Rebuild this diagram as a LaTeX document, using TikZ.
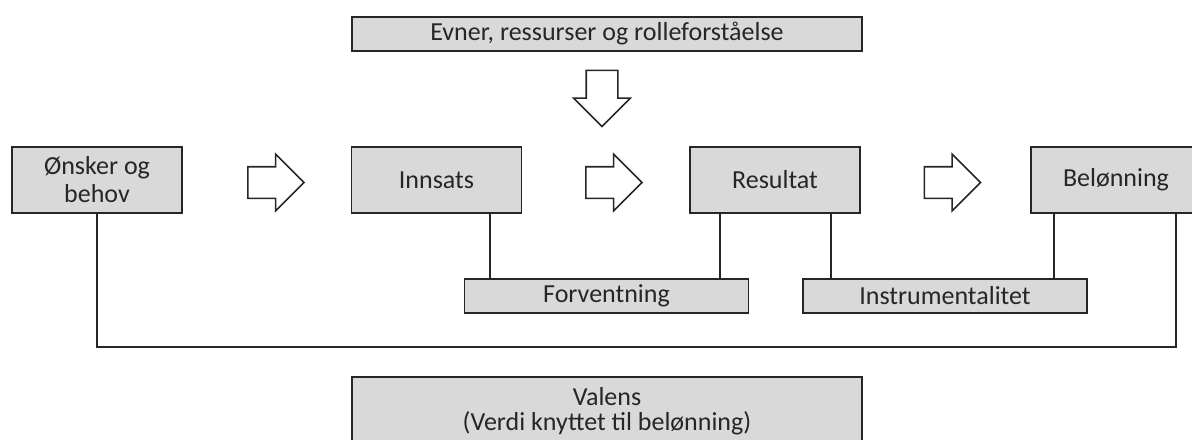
\documentclass[tikz,border=0pt]{standalone}
\usepackage{fontspec}
\setmainfont{Carlito}
\usetikzlibrary{shapes.arrows}
\definecolor{boxfill}{RGB}{217,217,217}
\definecolor{boxline}{RGB}{38,38,38}
\tikzset{
  box/.style={draw=boxline, fill=boxfill, line width=0.8pt, inner sep=0pt, align=center,
    text=boxline, font=\fontsize{13}{14}\selectfont},
  stepbox/.style={box, minimum width=85pt, minimum height=33pt},
  widebox/.style={box, minimum width=255pt, minimum height=17pt},
  linkbox/.style={box, minimum width=142pt, minimum height=17pt},
  fatarrow/.style={single arrow, draw=boxline, fill=white, line width=0.8pt,
    inner xsep=0pt, inner ysep=7.5pt, minimum height=28pt, single arrow head extend=6.25pt},
  link/.style={draw=boxline, line width=0.7pt}
}
\begin{document}
\begin{tikzpicture}[x=0.5pt, y=-0.5pt]
  \useasboundingbox (0,0) rectangle (1192,439);
  \clip (0,0) rectangle (1192,439);
  % top input
  \node[widebox] (evner) at (607,34) {Evner, ressurser og rolleforståelse};
  \node[fatarrow, rotate=-90] (down) at (602,90.5) {};
  % main chain
  \node[stepbox] (onsker) at (97,180) {Ønsker og\\behov};
  \node[stepbox] (innsats) at (436.5,180) {Innsats};
  \node[stepbox] (resultat) at (775,180) {Resultat};
  \node[stepbox] (belonning) at (1116,180) {Belønning};
  \node[fatarrow] (a1) at (268,182.5) {};
  \node[fatarrow] (a2) at (606,182.5) {};
  \node[fatarrow] (a3) at (944.5,182.5) {};
  % links below
  \node[linkbox] (forventning) at (606.5,296) {Forventning};
  \node[linkbox] (instrument) at (945,296) {Instrumentalitet};
  \node[box, minimum width=255pt, minimum height=34pt, font=\fontsize{13}{12.5}\selectfont] (valens) at (607,411) {Valens\\(Verdi knyttet til belønning)};
  \draw[link] (innsats.south -| 490,0) -- (forventning.north -| 490,0);
  \draw[link] (resultat.south -| 720,0) -- (forventning.north -| 720,0);
  \draw[link] (resultat.south -| 831,0) -- (instrument.north -| 831,0);
  \draw[link] (belonning.south -| 1054,0) -- (instrument.north -| 1054,0);
  \coordinate (bend) at (1176,347);
  \draw[link] (onsker.south) |- (bend) -- (bend |- belonning.south);
\end{tikzpicture}
\end{document}
